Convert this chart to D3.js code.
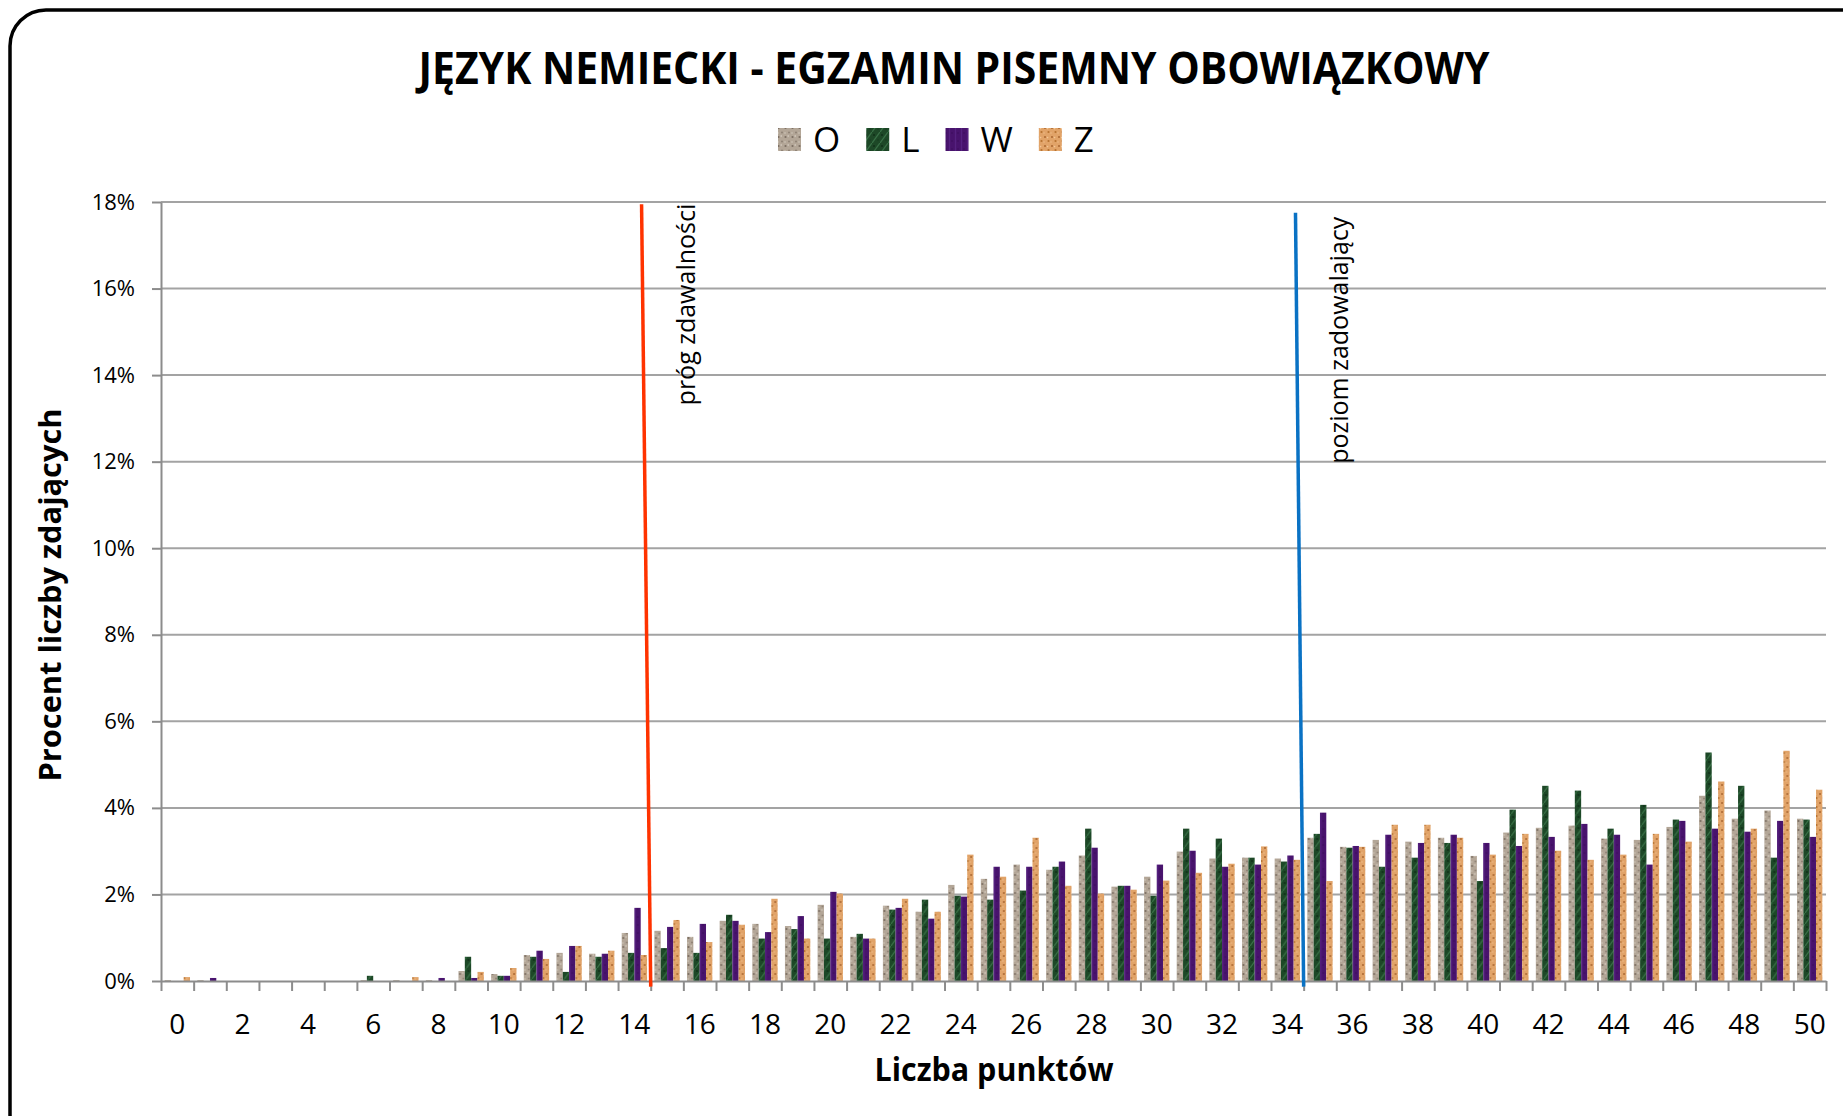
<html>
<head>
<meta charset="utf-8">
<title>Język niemiecki - egzamin pisemny obowiązkowy</title>
<script src="https://d3js.org/d3.v7.min.js"></script>
<style>
    body { margin: 0; background: #fff; }
    text { font-family: "Open Sans", sans-serif; }
</style>
</head>
<body>
<svg id="chart" width="1843" height="1116"></svg>
<script>
// points scored (categories on the x axis)
const categories = [0, 1, 2, 3, 4, 5, 6, 7, 8, 9, 10, 11, 12, 13, 14, 15, 16, 17, 18, 19, 20,
    21, 22, 23, 24, 25, 26, 27, 28, 29, 30, 31, 32, 33, 34, 35, 36, 37, 38, 39, 40,
    41, 42, 43, 44, 45, 46, 47, 48, 49, 50];
const xTickLabels = [0, 2, 4, 6, 8, 10, 12, 14, 16, 18, 20, 22, 24, 26, 28, 30, 32, 34, 36, 38, 40, 42, 44, 46, 48, 50];
const yTicks = [0, 2, 4, 6, 8, 10, 12, 14, 16, 18];
const seriesNames = ["O", "L", "W", "Z"];

// percent of candidates
const valuesO = [0.02, 0.02, 0, 0, 0, 0, 0.02, 0.02, 0.02, 0.23, 0.16, 0.60, 0.65, 0.63, 1.11, 1.16, 1.02, 1.39, 1.32, 1.27, 1.76,
    1.02, 1.74, 1.60, 2.22, 2.36, 2.69, 2.57, 2.90, 2.18, 2.41, 2.99, 2.83, 2.85, 2.83, 3.31, 3.10, 3.26, 3.22, 3.31, 2.89,
    3.43, 3.54, 3.59, 3.29, 3.26, 3.56, 4.28, 3.75, 3.94, 3.75];
const valuesL = [0, 0, 0, 0, 0, 0, 0.12, 0, 0, 0.56, 0.12, 0.56, 0.21, 0.56, 0.65, 0.76, 0.65, 1.53, 0.98, 1.20, 0.98,
    1.09, 1.65, 1.88, 1.97, 1.88, 2.09, 2.64, 3.52, 2.20, 1.97, 3.52, 3.29, 2.85, 2.76, 3.40, 3.08, 2.64, 2.85, 3.19, 2.31,
    3.96, 4.51, 4.40, 3.52, 4.07, 3.73, 5.28, 4.51, 2.85, 3.73];
const valuesW = [0, 0.07, 0, 0, 0, 0, 0, 0, 0.07, 0.07, 0.12, 0.70, 0.81, 0.63, 1.69, 1.25, 1.32, 1.39, 1.13, 1.50, 2.06,
    0.98, 1.69, 1.44, 1.95, 2.64, 2.64, 2.76, 3.08, 2.20, 2.69, 3.01, 2.64, 2.69, 2.90, 3.89, 3.12, 3.38, 3.19, 3.38, 3.19,
    3.12, 3.33, 3.63, 3.38, 2.69, 3.70, 3.52, 3.45, 3.70, 3.33];
const valuesZ = [0.09, 0, 0, 0, 0, 0, 0, 0.09, 0, 0.21, 0.30, 0.51, 0.81, 0.70, 0.60, 1.41, 0.90, 1.30, 1.90, 0.98, 2.02,
    0.98, 1.90, 1.60, 2.92, 2.41, 3.31, 2.20, 2.02, 2.11, 2.32, 2.50, 2.71, 3.11, 2.80, 2.31, 3.10, 3.61, 3.61, 3.31, 2.92,
    3.40, 3.01, 2.80, 2.92, 3.40, 3.22, 4.61, 3.52, 5.32, 4.42];

// threshold markers: drawn at a category edge, slightly leaning like in the original
const thresholds = [
    {label: "próg zdawalności", edge: 15, lean: -0.28, top: 17.95, labelFrom: 13.3, color: "#ff3300"},
    {label: "poziom zadowalający", edge: 35, lean: -0.25, top: 17.75, labelFrom: 11.95, color: "#0a72c4"}
];

const svg = d3.select("#chart");
const plot = {left: 161, right: 1826, top: 202, bottom: 981};

// textures for the bars
const defs = svg.append("defs");
function texture(id, w, h, base, dots, streak) {
    const p = defs.append("pattern").attr("id", id)
        .attr("patternUnits", "userSpaceOnUse").attr("width", w).attr("height", h);
    p.append("rect").attr("width", w).attr("height", h).attr("fill", base);
    if (streak) {
        p.append("path").attr("d", streak.d).attr("stroke", streak.color)
            .attr("stroke-width", streak.width).attr("opacity", streak.opacity).attr("fill", "none");
    }
    dots.forEach(d => p.append("circle").attr("cx", d[0]).attr("cy", d[1]).attr("r", d[2]).attr("fill", d[3]));
}
texture("tex-O", 7, 9, "#b3a697",
    [[1.5, 2, 1.1, "#7b6e62"], [5, 6.5, 0.9, "#8a7d70"], [4.2, 1, 0.8, "#dad1c6"], [1, 7, 0.8, "#d2c8bc"]]);
texture("tex-L", 8, 11, "#1d4827",
    [[2, 3, 0.9, "#0e2d16"], [6, 8, 0.8, "#123a1c"]],
    {d: "M0,11 L8,0", color: "#4a8a5a", width: 1.3, opacity: 0.6});
texture("tex-W", 6, 8, "#48136d",
    [[4, 5, 0.8, "#3a0b5a"]],
    {d: "M1.5,0 L1.5,8", color: "#5c2689", width: 1.2, opacity: 0.7});
texture("tex-Z", 7, 9, "#e1a368",
    [[2, 2, 1, "#a9662f"], [5.5, 6, 1.1, "#b5722f"], [4.6, 2.6, 0.8, "#f3c796"], [1, 7, 0.7, "#f0c08c"]]);

// frame
svg.append("rect")
    .attr("x", 10).attr("y", 10).attr("width", 1890).attr("height", 1140).attr("rx", 36)
    .attr("fill", "#fff").attr("stroke", "#000").attr("stroke-width", 3.5);

// scales
const x0 = d3.scaleBand().domain(categories).range([plot.left, plot.right])
    .paddingInner(0.224).paddingOuter(0.112);
const x1 = d3.scaleBand().domain(seriesNames).range([0, x0.bandwidth()]);
const xEdge = d3.scaleLinear().domain([0, categories.length]).range([plot.left, plot.right]);
const y = d3.scaleLinear().domain([0, 18]).range([plot.bottom, plot.top]);

// gridlines
svg.append("g").selectAll("line")
    .data(yTicks.filter(t => t > 0))
    .join("line")
    .attr("x1", plot.left).attr("x2", plot.right)
    .attr("y1", d => y(d)).attr("y2", d => y(d))
    .attr("stroke", "#a3a3a3").attr("stroke-width", 2);

// y axis
const yAxis = svg.append("g").attr("transform", `translate(${plot.left},0)`)
    .call(d3.axisLeft(y).tickValues(yTicks).tickSize(9).tickSizeOuter(0).tickPadding(17)
        .tickFormat(d => d + "%"));
yAxis.selectAll("path, line").attr("stroke", "#8c8c8c").attr("stroke-width", 2);
yAxis.selectAll("text").attr("font-size", 22).attr("fill", "#000")
    .attr("font-family", "'Open Sans', sans-serif");

// bars
const seriesValues = {O: valuesO, L: valuesL, W: valuesW, Z: valuesZ};
const rows = categories.map((c, i) => ({c, vals: seriesNames.map(s => ({s, v: seriesValues[s][i]}))}));
svg.append("g").selectAll("g")
    .data(rows)
    .join("g")
    .attr("transform", d => `translate(${x0(d.c)},0)`)
    .selectAll("rect")
    .data(d => d.vals)
    .join("rect")
    .attr("x", d => x1(d.s))
    .attr("y", d => y(d.v))
    .attr("width", x1.bandwidth())
    .attr("height", d => y(0) - y(d.v))
    .attr("fill", d => `url(#tex-${d.s})`);

// x axis (ticks between categories)
const xAxis = svg.append("g").attr("transform", `translate(0,${plot.bottom})`)
    .call(d3.axisBottom(xEdge).tickValues(d3.range(0, categories.length + 1))
        .tickSize(10).tickSizeOuter(0).tickFormat(""));
xAxis.selectAll("path, line").attr("stroke", "#8c8c8c").attr("stroke-width", 2);

svg.append("g").selectAll("text")
    .data(xTickLabels)
    .join("text")
    .attr("x", d => xEdge(d + 0.5))
    .attr("y", 1034)
    .attr("text-anchor", "middle")
    .attr("font-size", 28)
    .text(d => d);

// threshold lines and their labels
thresholds.forEach(t => {
    svg.append("line")
        .attr("x1", xEdge(t.edge)).attr("y1", y(-0.13))
        .attr("x2", xEdge(t.edge + t.lean)).attr("y2", y(t.top))
        .attr("stroke", t.color).attr("stroke-width", 3.5);
    const lx = xEdge(t.edge) + 44, ly = y(t.labelFrom);
    svg.append("text")
        .attr("transform", `translate(${lx},${ly}) rotate(-90)`)
        .attr("font-size", 25)
        .text(t.label);
});

// titles
svg.append("text")
    .attr("x", 954).attr("y", 84)
    .attr("text-anchor", "middle")
    .attr("font-size", 44).attr("font-weight", "bold")
    .attr("textLength", 1071).attr("lengthAdjust", "spacingAndGlyphs")
    .text("JĘZYK NEMIECKI - EGZAMIN PISEMNY OBOWIĄZKOWY");

svg.append("text")
    .attr("transform", "translate(61,595) rotate(-90)")
    .attr("text-anchor", "middle")
    .attr("font-size", 30).attr("font-weight", "bold")
    .attr("textLength", 373).attr("lengthAdjust", "spacingAndGlyphs")
    .text("Procent liczby zdających");

svg.append("text")
    .attr("x", 994).attr("y", 1081)
    .attr("text-anchor", "middle")
    .attr("font-size", 33).attr("font-weight", "bold")
    .attr("textLength", 239).attr("lengthAdjust", "spacingAndGlyphs")
    .text("Liczba punktów");

// legend
const legend = svg.append("g");
let lx = 778;
seriesNames.forEach(s => {
    legend.append("rect").attr("x", lx).attr("y", 128).attr("width", 23).attr("height", 23)
        .attr("fill", `url(#tex-${s})`);
    const t = legend.append("text").attr("x", lx + 35).attr("y", 152)
        .attr("font-size", 35).text(s);
    lx += 35 + t.node().getComputedTextLength() + 26;
});
</script>
</body>
</html>
